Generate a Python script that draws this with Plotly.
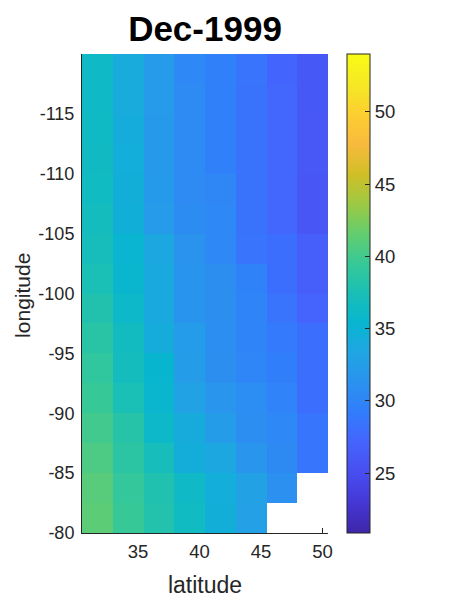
import plotly.graph_objects as go

# cell centres
latitude = [31.7, 34.2, 36.7, 39.2, 41.7, 44.2, 46.7, 49.2]
longitude = [-118.75, -116.25, -113.75, -111.25, -108.75, -106.25, -103.75, -101.25,
             -98.75, -96.25, -93.75, -91.25, -88.75, -86.25, -83.75, -81.25]

# values per latitude column, top (west) to bottom (east); None = no data
col1 = [36.2, 36.2, 36.3, 36.4, 36.5, 36.8, 37.0, 37.5, 38.0, 38.5, 39.0, 39.5, 40.0, 40.5, 41.0, 41.2]
col2 = [34.0, 34.0, 34.2, 34.4, 34.5, 34.6, 35.3, 35.6, 36.0, 36.6, 36.9, 37.5, 38.3, 38.7, 39.2, 39.5]
col3 = [32.2, 32.2, 32.0, 32.0, 32.1, 32.2, 33.6, 33.8, 33.8, 34.2, 35.4, 35.6, 36.0, 37.0, 37.9, 38.1]
col4 = [30.3, 30.6, 30.6, 30.6, 30.6, 30.7, 31.4, 31.5, 31.5, 32.3, 32.4, 33.0, 34.1, 34.3, 36.2, 36.5]
col5 = [29.6, 29.6, 29.6, 29.6, 30.2, 30.3, 30.3, 31.0, 31.0, 30.9, 31.0, 31.6, 32.4, 33.5, 34.4, 34.5]
col6 = [28.5, 28.4, 28.4, 28.4, 28.4, 28.4, 28.5, 29.7, 29.9, 29.9, 30.1, 30.8, 30.9, 31.6, 32.9, 32.8]
col7 = [27.2, 27.3, 27.3, 27.3, 27.3, 27.3, 28.0, 28.0, 28.5, 29.0, 29.3, 29.8, 30.3, 30.5, 31.1, None]
col8 = [26.1, 26.1, 26.0, 26.0, 25.8, 25.8, 26.7, 26.7, 27.1, 28.0, 28.0, 28.0, 28.6, 28.6, None, None]

lat_ticks = [35, 40, 45, 50]
lon_ticks = [-115, -110, -105, -100, -95, -90, -85, -80]
cbar_ticks = [25, 30, 35, 40, 45, 50]

z = [list(r) for r in zip(col1, col2, col3, col4, col5, col6, col7, col8)]

parula = [
    (0.2422, 0.1504, 0.6603), (0.2706, 0.2147, 0.8364), (0.2813, 0.3006, 0.9414),
    (0.2699, 0.3892, 0.9906), (0.1963, 0.4847, 0.9892), (0.1687, 0.5703, 0.9359),
    (0.1248, 0.6459, 0.8883), (0.0297, 0.7082, 0.8163), (0.0964, 0.7500, 0.7120),
    (0.2161, 0.7843, 0.5923), (0.3909, 0.8029, 0.4354), (0.6174, 0.7876, 0.2612),
    (0.8203, 0.7498, 0.1535), (0.9728, 0.7298, 0.2394), (0.9892, 0.8136, 0.1885),
    (0.9597, 0.9135, 0.1423), (0.9769, 0.9839, 0.0805),
]
n = len(parula) - 1
cscale = [[i / n, "rgb(%d,%d,%d)" % tuple(round(c * 255) for c in rgb)]
          for i, rgb in enumerate(parula)]

TXT = "#262626"

fig = go.Figure(go.Heatmap(
    x=latitude, y=longitude, z=z,
    colorscale=cscale, zmin=20.85, zmax=54.0,
    xgap=0, ygap=0, hoverongaps=False,
    colorbar=dict(
        x=1.077, xanchor="left", xpad=0, y=0.5, yanchor="middle", ypad=0,
        len=1, lenmode="fraction", thickness=23, thicknessmode="pixels",
        outlinewidth=1, outlinecolor=TXT,
        tickvals=cbar_ticks, ticks="inside", ticklen=5,
        tickcolor=TXT, tickfont=dict(size=18.5, color=TXT),
    ),
))

fig.update_layout(
    width=450, height=600,
    margin=dict(l=74, r=130, t=46, b=75, autoexpand=False),
    paper_bgcolor="white", plot_bgcolor="white",
    font=dict(family="Liberation Sans, Arial, sans-serif", color=TXT),
    title=dict(text="<b>Dec-1999</b>", x=(74 + 123) / 450, xanchor="center",
               y=0.966, yanchor="middle", font=dict(size=35, color="black")),
    xaxis=dict(
        range=[30.45, 50.45], tickvals=lat_ticks, ticktext=[str(v) for v in lat_ticks],
        ticks="inside", ticklen=5, tickcolor=TXT,
        showline=True, linecolor=TXT, linewidth=1,
        showgrid=False, zeroline=False, layer="below traces",
        tickfont=dict(size=18.5, color=TXT), ticklabelstandoff=2,
        title=dict(text="latitude", font=dict(size=23, color=TXT), standoff=15),
    ),
    yaxis=dict(
        range=[-80, -120], tickvals=lon_ticks, ticktext=[str(v) for v in lon_ticks],
        ticks="inside", ticklen=5, tickcolor=TXT,
        showline=True, linecolor=TXT, linewidth=1,
        showgrid=False, zeroline=False, layer="below traces",
        tickfont=dict(size=18, color=TXT), ticklabelstandoff=3,
    ),
    annotations=[dict(
        text="longitude", textangle=-90, showarrow=False,
        xref="paper", yref="paper", x=-0.240, y=0.497,
        xanchor="center", yanchor="middle", borderpad=0,
        font=dict(size=21, color=TXT),
    )],
)

fig.write_html("out.html")
